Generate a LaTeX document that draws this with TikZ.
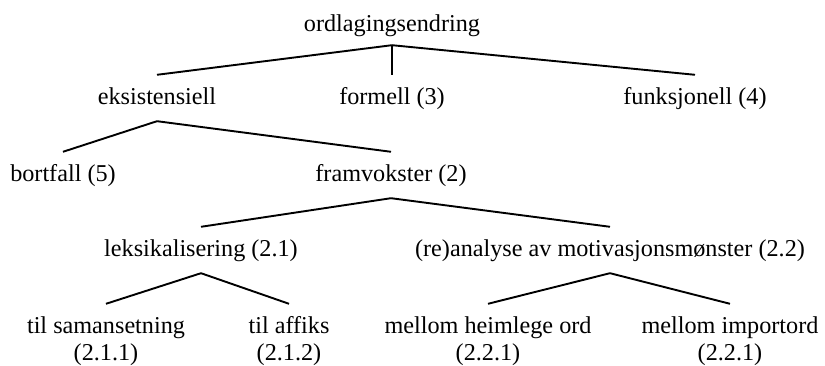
\documentclass[tikz,border=0pt]{standalone}
\usepackage{fontspec}
\setmainfont{Liberation Serif}
\usepackage{tikz}

\begin{document}
\begin{tikzpicture}[
  x=1pt,
  y=1pt,
  lab/.style={font=\fontsize{24.2}{27}\selectfont,anchor=base,text height=23pt,text depth=9pt,inner xsep=0pt,inner ysep=7pt},
  edge/.style={line width=1.9pt}
]
\useasboundingbox (0,0) rectangle (825,366);
\node[lab,text depth=6pt] (root) at (392,334) {ordlagingsendring};
\node[lab] (eks)  at (157,261) {eksistensiell};
\node[lab] (form) at (392,261) {formell (3)};
\node[lab] (funk) at (695,261) {funksjonell (4)};
\node[lab] (bort) at (63,184)  {bortfall (5)};
\node[lab] (fram) at (391,184) {framvokster (2)};
\node[lab] (leks) at (201,109) {leksikalisering (2.1)};
\node[lab] (rean) at (610,109) {(re)analyse av motivasjonsmønster (2.2)};
\node[lab] (sam)  at (106,32) {\begin{tabular}[t]{@{}c@{}}til samansetning\\(2.1.1)\end{tabular}};
\node[lab] (aff)  at (289,32) {\begin{tabular}[t]{@{}c@{}}til affiks\\(2.1.2)\end{tabular}};
\node[lab] (heim) at (488,32) {\begin{tabular}[t]{@{}c@{}}mellom heimlege ord\\(2.2.1)\end{tabular}};
\node[lab] (imp)  at (730,32) {\begin{tabular}[t]{@{}c@{}}mellom importord\\(2.2.1)\end{tabular}};
\foreach \a/\b in {root/eks,root/form,root/funk,eks/bort,eks/fram,fram/leks,fram/rean,leks/sam,leks/aff,rean/heim,rean/imp} {
  \draw[edge] (\a.south) -- (\b.north);
}
\end{tikzpicture}
\end{document}
